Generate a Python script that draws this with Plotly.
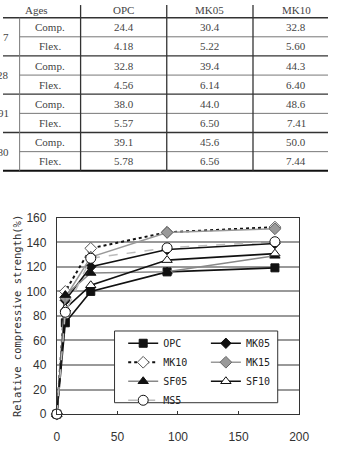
import plotly.graph_objects as go

# ---------------- data ----------------
days = [0, 7, 28, 91, 180]
opc = [0, 74.4, 100.0, 115.9, 119.2]
mk05 = [0, 92.7, 120.1, 134.1, 139.0]
mk10 = [0, 100.0, 135.1, 148.2, 152.4]
mk15 = [0, 95.0, 128.0, 148.0, 151.0]
sf05 = [0, 97.0, 115.0, 116.0, 129.0]
sf10 = [0, 86.0, 105.0, 125.5, 130.8]
ms5 = [0, 83.0, 127.0, 135.5, 140.5]

x_ticks = [0, 50, 100, 150, 200]
y_ticks = [0, 20, 40, 60, 80, 100, 120, 140, 160]

table_header = ["Ages", "OPC", "MK05", "MK10"]
table_ages = ["7", "28", "91", "180"]
table_props = ["Comp.", "Flex."]
tbl_opc = ["24.4", "4.18", "32.8", "4.56", "38.0", "5.57", "39.1", "5.78"]
tbl_mk05 = ["30.4", "5.22", "39.4", "6.14", "44.0", "6.50", "45.6", "6.56"]
tbl_mk10 = ["32.8", "5.60", "44.3", "6.40", "48.6", "7.41", "50.0", "7.44"]

# ---------------- layout helpers ----------------
W, H = 338, 454


def PX(px):
    return px / W


def PY(py):
    return 1 - py / H


fig = go.Figure()

styles = {
    "OPC": dict(line=dict(color="#111", width=1.6),
                marker=dict(symbol="square", size=8, color="#111", line=dict(color="#111", width=1)), legend="legend"),
    "MK05": dict(line=dict(color="#111", width=1.6),
                 marker=dict(symbol="diamond", size=8, color="#111", line=dict(color="#111", width=1)), legend="legend2"),
    "MK10": dict(line=dict(color="#111", width=2, dash="dot"),
                 marker=dict(symbol="diamond", size=9, color="white", line=dict(color="#555", width=1)), legend="legend"),
    "MK15": dict(line=dict(color="#999", width=1.5),
                 marker=dict(symbol="diamond", size=9, color="#999", line=dict(color="#666", width=1)), legend="legend2"),
    "SF05": dict(line=dict(color="#888", width=1.5),
                 marker=dict(symbol="triangle-up", size=9, color="#111", line=dict(color="#111", width=1)), legend="legend"),
    "SF10": dict(line=dict(color="#111", width=1.6),
                 marker=dict(symbol="triangle-up", size=9, color="white", line=dict(color="#111", width=1)), legend="legend2"),
    "MS5": dict(line=dict(color="#bbb", width=1.5, dash="dash"),
                marker=dict(symbol="circle", size=10, color="white", line=dict(color="#111", width=1)), legend="legend"),
}
series = [("OPC", opc), ("MK05", mk05), ("MK10", mk10), ("MK15", mk15),
          ("SF05", sf05), ("SF10", sf10), ("MS5", ms5)]

for name, vals in series:
    st = styles[name]
    fig.add_trace(go.Scatter(x=days, y=vals, name=name, mode="lines+markers",
                             line=st["line"], marker=st["marker"], legend=st["legend"],
                             cliponaxis=False))

# ---------------- chart frame ----------------
plot_l, plot_r, plot_t, plot_b = 56, 308, 217.5, 420
legend_font = dict(family="DejaVu Sans Mono", size=10, color="#222")
fig.update_layout(
    width=W, height=H, margin=dict(l=0, r=0, t=0, b=0),
    paper_bgcolor="white", plot_bgcolor="white",
    font=dict(family="Liberation Sans, Arial", size=12, color="#333"),
    xaxis=dict(domain=[PX(plot_l), PX(plot_r)], range=[0, 200], tickvals=x_ticks,
               ticks="inside", ticklen=3, tickcolor="#333", showline=True, linecolor="#333",
               linewidth=1, mirror=True, showgrid=False, zeroline=False, ticklabelstandoff=12,
               tickfont=dict(family="Liberation Sans, Arial", size=12, color="#333")),
    yaxis=dict(domain=[PY(plot_b), PY(plot_t)], range=[0, 160], tickvals=y_ticks,
               ticks="", showline=True, linecolor="#333", linewidth=1, mirror=True,
               showgrid=True, gridcolor="#999", gridwidth=1.5, zeroline=False, ticklabelstandoff=7,
               tickfont=dict(family="Liberation Sans, Arial", size=12, color="#333"),
               title=dict(text="Relative compressive strength(%)", standoff=2,
                          font=dict(family="DejaVu Sans Mono", size=10.5, color="#333"))),
    showlegend=True,
    legend=dict(x=PX(125), y=PY(332), xanchor="left", yanchor="top", bgcolor="rgba(0,0,0,0)",
                borderwidth=0, font=legend_font, tracegroupgap=0, itemwidth=30),
    legend2=dict(x=PX(211), y=PY(332), xanchor="left", yanchor="top", bgcolor="rgba(0,0,0,0)",
                 borderwidth=0, font=legend_font, tracegroupgap=0, itemwidth=30),
)

shapes = []
# legend box
shapes.append(dict(type="rect", xref="paper", yref="paper", x0=PX(116), x1=PX(285.7),
                   y0=PY(408.3), y1=PY(334.3), line=dict(color="#333", width=1),
                   fillcolor="white", layer="above"))

# ---------------- table ----------------
row_top = 11.0
row_h = 19.75
col_edges = [-18, 17.3, 80.7, 170.3, 260, 349.7]
n_rows = 8
dark = "#333"
thin = "#777"
tfont = dict(family="Liberation Serif, Times New Roman", size=11, color="#444")


def hline(y, x0, x1, color, width):
    shapes.append(dict(type="line", xref="paper", yref="paper", x0=PX(x0), x1=PX(x1),
                       y0=PY(y), y1=PY(y), line=dict(color=color, width=width)))


def vline(x, y0, y1, color, width):
    shapes.append(dict(type="line", xref="paper", yref="paper", x0=PX(x), x1=PX(x),
                       y0=PY(y0), y1=PY(y1), line=dict(color=color, width=width)))


hline(row_top, 0, W, dark, 1.5)
for k in range(1, n_rows):
    y = row_top + k * row_h
    if k % 2 == 1:
        hline(y, col_edges[1], W, thin, 1)
    else:
        hline(y, 0, W, dark, 1.3)
table_bottom = row_top + n_rows * row_h
hline(table_bottom, 0, W, "#111", 2)
vline(col_edges[1], row_top, table_bottom, thin, 1)
for cx in col_edges[2:5]:
    vline(cx, -2, table_bottom, dark, 1.3)

annotations = []


def txt(x, y, s, anchor="center"):
    annotations.append(dict(x=PX(x), y=PY(y), xref="paper", yref="paper", text=s,
                            showarrow=False, xanchor=anchor, yanchor="middle", font=tfont))


# header
header_y = 3
txt((-12 + col_edges[2]) / 2, header_y, table_header[0])
for i, h in enumerate(table_header[1:]):
    txt((col_edges[2 + i] + col_edges[3 + i]) / 2, header_y, h)

for g, age in enumerate(table_ages):
    yc = row_top + (2 * g + 1) * row_h
    txt(8.5, yc, age, anchor="right")

for r in range(n_rows):
    yc = row_top + (r + 0.5) * row_h
    txt((col_edges[1] + col_edges[2]) / 2, yc, table_props[r % 2])
    for ci, col in enumerate([tbl_opc, tbl_mk05, tbl_mk10]):
        txt((col_edges[2 + ci] + col_edges[3 + ci]) / 2, yc, col[r])

fig.update_layout(shapes=shapes, annotations=annotations)
fig.write_html("out.html")
